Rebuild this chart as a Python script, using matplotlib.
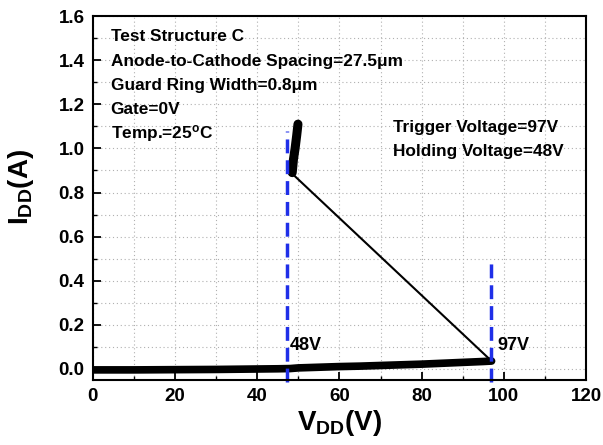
import matplotlib
matplotlib.use("Agg")
import matplotlib.pyplot as plt
from matplotlib.ticker import MultipleLocator

plt.rcParams['font.family'] = ['Liberation Sans', 'DejaVu Sans']
plt.rcParams['font.weight'] = 'bold'
plt.rcParams['mathtext.fontset'] = 'custom'
plt.rcParams['mathtext.rm'] = 'Liberation Sans:bold'
plt.rcParams['mathtext.bf'] = 'Liberation Sans:bold'
plt.rcParams['mathtext.it'] = 'Liberation Sans:bold'

# Pre-trigger (off-state) leakage branch
v_off = [0, 10, 20, 30, 40, 45, 48, 50, 55, 60, 65, 70, 75, 80, 85, 90, 95, 97]
i_off = [-0.004, -0.004, -0.003, -0.002, 0.000, 0.001, 0.002, 0.005, 0.008,
         0.011, 0.013, 0.016, 0.019, 0.022, 0.026, 0.030, 0.034, 0.036]
# Snapback jump
v_snap = [97, 48.8]
i_snap = [0.036, 0.88]
# Holding (on-state) branch
v_hold = [48.5, 48.8, 49.2, 49.6, 49.9]
i_hold = [0.89, 0.95, 1.00, 1.06, 1.11]

trigger_v = 97
holding_v = 48
marker_v = [47.3, 96.8]
marker_top = [1.08, 0.49]

fig = plt.figure(figsize=(6.03, 4.45), dpi=100)
ax = fig.add_axes([0.154, 0.146, 0.818, 0.818])

ax.plot(v_off, i_off, color='black', lw=5.5, solid_capstyle='round')
ax.plot(v_snap, i_snap, color='black', lw=1.5)
ax.plot(v_hold, i_hold, color='black', lw=6.5, solid_capstyle='round')

for xv, yt in zip(marker_v, marker_top):
    ax.plot([xv, xv], [-0.06, yt], color='#1f2fe8', lw=2.5, ls=(0, (4, 2)),
            clip_on=False)

ax.set_xlim(0, 120)
ax.set_ylim(-0.05, 1.6)
ax.xaxis.set_major_locator(MultipleLocator(20))
ax.xaxis.set_minor_locator(MultipleLocator(10))
ax.yaxis.set_major_locator(MultipleLocator(0.2))
ax.yaxis.set_minor_locator(MultipleLocator(0.1))
ax.yaxis.set_major_formatter(matplotlib.ticker.FormatStrFormatter('%.1f'))

ax.grid(True, which='both', color='#b0b0b0', ls=(0, (1, 2.5)), lw=0.8)
ax.set_axisbelow(True)
ax.tick_params(which='major', direction='in', length=6, width=1.3,
               labelsize=13.5, top=False, right=False, pad=6)
ax.tick_params(which='minor', direction='in', length=3, width=1.0,
               top=False, right=False)
for lab in ax.get_xticklabels() + ax.get_yticklabels():
    lab.set_fontweight('bold')
for s in ax.spines.values():
    s.set_linewidth(1.5)

ax.set_xlabel(r'V$_{\mathrm{DD}}$(V)', fontsize=20, fontweight='bold', labelpad=2)
ax.set_ylabel(r'I$_{\mathrm{DD}}$(A)', fontsize=20, fontweight='bold')
ax.yaxis.set_label_coords(-0.115, 0.53)

info = ['Test Structure C',
        'Anode-to-Cathode Spacing=27.5\u03bcm',
        'Guard Ring Width=0.8\u03bcm',
        'Gate=0V',
        r'Temp.=25$^{\mathrm{o}}$C']
for k, t in enumerate(info):
    ax.text(4.3, 1.505 - k * 0.109, t, fontsize=12.4, fontweight='bold',
            va='center', ha='left')

ax.text(73, 1.095, 'Trigger Voltage=%dV' % trigger_v, fontsize=12.4,
        fontweight='bold', va='center', ha='left')
ax.text(73, 0.986, 'Holding Voltage=%dV' % holding_v, fontsize=12.4,
        fontweight='bold', va='center', ha='left')

ax.text(48.0, 0.108, '%dV' % holding_v, fontsize=13, fontweight='bold',
        va='center', ha='left')
ax.text(98.3, 0.108, '%dV' % trigger_v, fontsize=13, fontweight='bold',
        va='center', ha='left')

fig.savefig('out.png', dpi=100)
